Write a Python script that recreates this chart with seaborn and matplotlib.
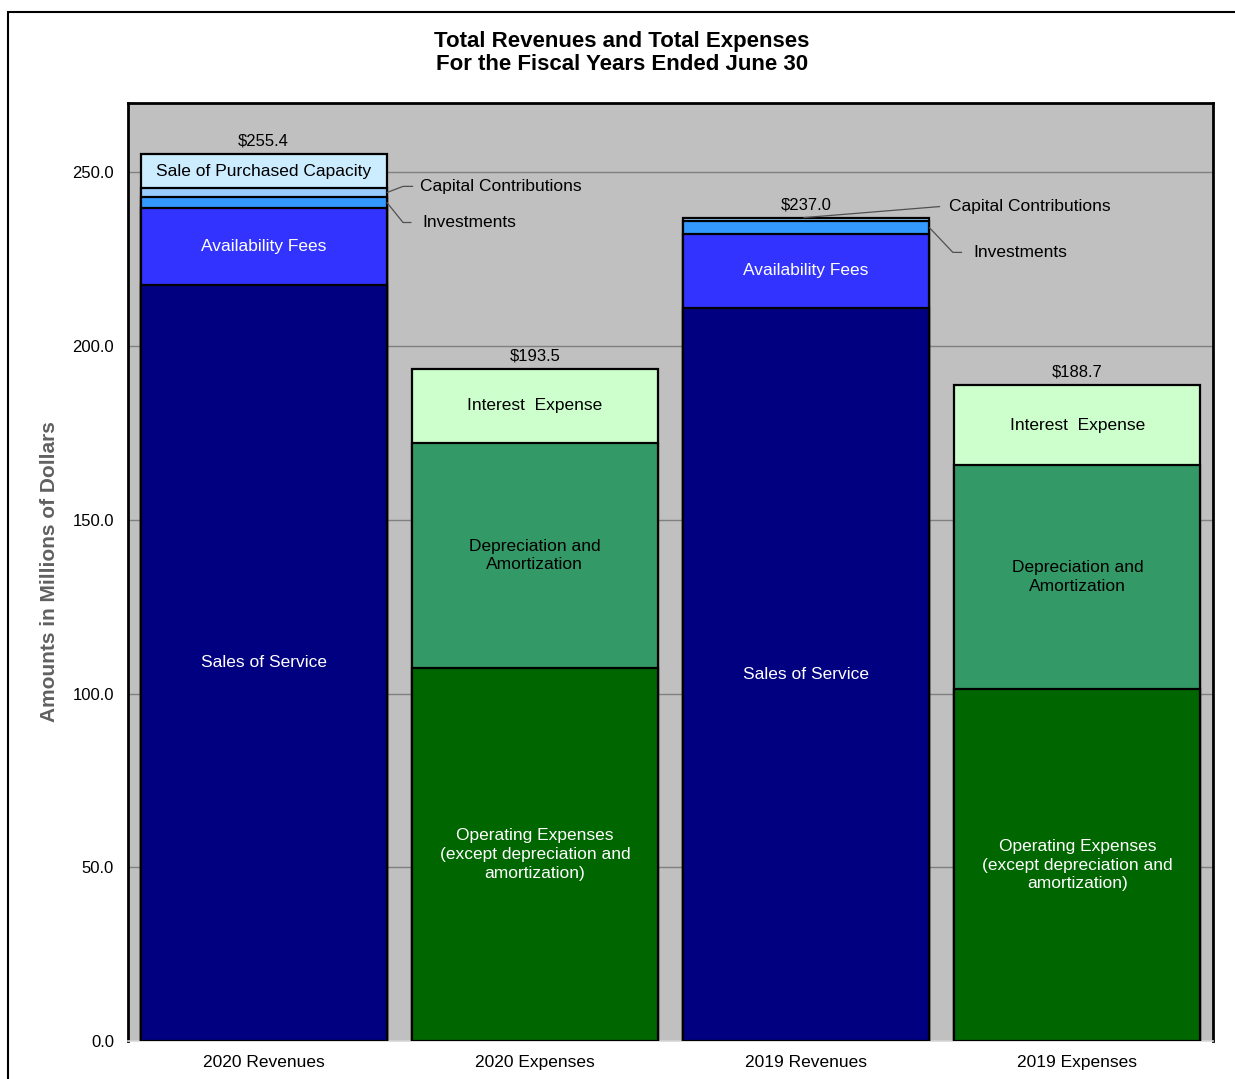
import matplotlib
matplotlib.use("Agg")
import matplotlib.pyplot as plt
from matplotlib.patches import Rectangle
import seaborn as sns
import pandas as pd
import numpy as np

# ---------------- data ----------------
categories = ["2020 Revenues", "2020 Expenses", "2019 Revenues", "2019 Expenses"]

revenue_segments = ["Sales of Service", "Availability Fees", "Investments",
                    "Capital Contributions", "Sale of Purchased Capacity"]
rev_2020 = [217.7, 22.2, 3.1, 2.4, 10.0]
rev_2019 = [211.0, 21.4, 3.6, 1.0, 0.0]

expense_segments = ["Operating Expenses\n(except depreciation and\namortization)",
                    "Depreciation and\nAmortization", "Interest  Expense"]
exp_2020 = [107.4, 64.7, 21.4]
exp_2019 = [101.2, 64.7, 22.8]

totals = ["$255.4", "$193.5", "$237.0", "$188.7"]

rev_colors = ["#000080", "#3333FF", "#3399FF", "#99CCFF", "#CCECFF"]
exp_colors = ["#006600", "#339966", "#CCFFCC"]
rev_text = ["white", "white", None, None, "black"]
exp_text = ["white", "black", "black"]

# ---------------- build long table ----------------
rows = []
for cat, vals in [("2020 Revenues", rev_2020), ("2019 Revenues", rev_2019)]:
    cum = np.cumsum(vals)
    for i, (seg, v) in enumerate(zip(revenue_segments, vals)):
        rows.append(dict(category=cat, seg=seg, val=v, cum=cum[i], base=cum[i] - v,
                         color=rev_colors[i], tcol=rev_text[i], level=i))
for cat, vals in [("2020 Expenses", exp_2020), ("2019 Expenses", exp_2019)]:
    cum = np.cumsum(vals)
    for i, (seg, v) in enumerate(zip(expense_segments, vals)):
        rows.append(dict(category=cat, seg=seg, val=v, cum=cum[i], base=cum[i] - v,
                         color=exp_colors[i], tcol=exp_text[i], level=i))
df = pd.DataFrame(rows)
df = df[df.val > 0]

# ---------------- figure ----------------
sns.set_theme(style="white")
plt.rcParams["font.family"] = ["Liberation Sans", "DejaVu Sans"]
plt.rcParams["text.color"] = "black"
plt.rcParams["xtick.color"] = "black"
plt.rcParams["ytick.color"] = "black"
plt.rcParams["xtick.labelcolor"] = "black"
plt.rcParams["ytick.labelcolor"] = "black"

fig = plt.figure(figsize=(12.35, 10.79), dpi=100)
ax = fig.add_axes([128 / 1235, 1 - 1041 / 1079, (1213 - 128) / 1235, (1041 - 103) / 1079])
ax.set_facecolor("#C0C0C0")

BAR_W = 0.907
# draw tallest cumulative first so shorter ones overlay (stacking)
for seg_name, color in list(zip(revenue_segments, rev_colors))[::-1] + list(zip(expense_segments, exp_colors))[::-1]:
    sub = df[df.seg == seg_name]
    if sub.empty:
        continue
    sns.barplot(data=sub, x="category", y="cum", order=categories, color=color,
                saturation=1, width=BAR_W, edgecolor="black", linewidth=1.6,
                errorbar=None, ax=ax, zorder=3)

ax.set_ylim(0, 270)
ax.set_xlim(-0.5, 3.5)
ax.set_yticks([0, 50, 100, 150, 200, 250])
ax.set_yticklabels(["0.0", "50.0", "100.0", "150.0", "200.0", "250.0"], fontsize=12)
ax.yaxis.grid(True, color="#808080", linewidth=1.0)
ax.set_axisbelow(True)

ax.set_xticks(range(4))
ax.set_xticklabels(categories, fontsize=12.5)
ax.set_xticks(np.arange(-0.5, 4.0, 1.0), minor=True)
ax.tick_params(axis="x", which="major", length=0, pad=10, labelcolor="black")
ax.tick_params(axis="x", which="minor", length=7, color="#D8D8D8", width=1)
ax.tick_params(axis="y", which="major", length=4, color="#D8D8D8", pad=6, labelcolor="black")
ax.set_xlabel("")
ax.set_ylabel("Amounts in Millions of Dollars", fontsize=15, fontweight="bold",
              color="#606060", labelpad=10)

for s in ["top", "left", "right"]:
    ax.spines[s].set_visible(True)
    ax.spines[s].set_color("black")
    ax.spines[s].set_linewidth(2)
ax.spines["bottom"].set_color("#D8D8D8")
ax.spines["bottom"].set_linewidth(1.2)

# ---------------- segment labels ----------------
xpos = {c: i for i, c in enumerate(categories)}
for _, r in df.iterrows():
    if r["tcol"] is None:
        continue
    ax.text(xpos[r["category"]], r["base"] + r["val"] / 2, r["seg"], ha="center", va="center",
            color=r["tcol"], fontsize=12.5, zorder=5, linespacing=1.3)

# totals
for i, c in enumerate(categories):
    top = df[df["category"] == c]["cum"].max()
    ax.text(i, top + 1.6, totals[i], ha="center", va="bottom", fontsize=12,
            color="black", zorder=5)

# ---------------- callouts ----------------
lc = "#505050"
def callout(pts, text, tx, ty):
    xs, ys = zip(*pts)
    ax.plot(xs, ys, color=lc, lw=0.9, zorder=6, solid_capstyle="butt")
    ax.text(tx, ty, text, ha="left", va="center", fontsize=12.5, color="black", zorder=6)

half = BAR_W / 2
r20 = np.cumsum(rev_2020)
r19 = np.cumsum(rev_2019)
callout([(half, r20[3] - rev_2020[3] / 2), (0.514, 246.0), (0.551, 246.0)],
        "Capital Contributions", 0.576, 246.0)
callout([(half, r20[2] - rev_2020[2] / 2), (0.514, 235.6), (0.545, 235.6)],
        "Investments", 0.584, 235.6)
callout([(1.99, r19[3]), (2.494, 240.2)], "Capital Contributions", 2.527, 240.2)
callout([(2 + half, r19[2] - rev_2019[2] / 2), (2.541, 227.0), (2.575, 227.0)],
        "Investments", 2.615, 227.0)

# ---------------- title & frame ----------------
fig.text(622 / 1235, 1 - 41 / 1079, "Total Revenues and Total Expenses",
         ha="center", va="center", fontsize=16, fontweight="bold", color="black")
fig.text(622 / 1235, 1 - 65 / 1079, "For the Fiscal Years Ended June 30",
         ha="center", va="center", fontsize=16, fontweight="bold", color="black")
fig.patches.append(Rectangle((8 / 1235, -0.1), 1.2, 1.1 - 12 / 1079, fill=False,
                             edgecolor="black", linewidth=1.5,
                             transform=fig.transFigure, figure=fig))

fig.savefig("out.png", dpi=100, facecolor="white")
